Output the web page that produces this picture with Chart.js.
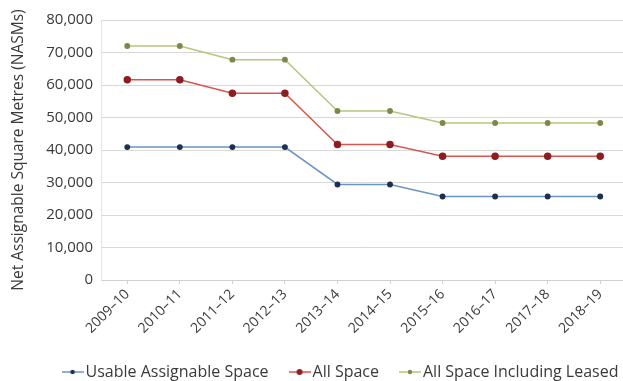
<!DOCTYPE html>
<html>
<head>
<meta charset="utf-8">
<script src="https://cdn.jsdelivr.net/npm/chart.js@4.4.0/dist/chart.umd.min.js"></script>
<style>
  html, body { margin: 0; padding: 0; background: #fff; overflow: hidden; }
  #wrap { width: 632px; height: 381px; position: relative; }
</style>
</head>
<body>
<div id="wrap"><canvas id="chart"></canvas></div>
<script>
const years = ['2009–10', '2010–11', '2011–12', '2012–13', '2013–14', '2014–15', '2015–16', '2016–17', '2017–18', '2018–19'];
const usableSpace = [40900, 40900, 40900, 40900, 29400, 29400, 25700, 25700, 25700, 25700];
const allSpace = [61600, 61600, 57500, 57500, 41700, 41700, 38100, 38100, 38100, 38100];
const allSpaceLeased = [72000, 72000, 67800, 67800, 52000, 52000, 48300, 48300, 48300, 48300];

const font = "'Open Sans', 'DejaVu Sans', sans-serif";
const txt = '#3a3a3a';

// little legend icon: short line with the marker on it
function legendIcon(line, dot, r) {
  const c = document.createElement('canvas');
  c.width = 22; c.height = 10;
  const g = c.getContext('2d');
  g.strokeStyle = line; g.lineWidth = 1.5;
  g.beginPath(); g.moveTo(0, 5); g.lineTo(22, 5); g.stroke();
  g.fillStyle = dot;
  g.beginPath(); g.arc(11, 5, r, 0, Math.PI * 2); g.fill();
  return c;
}

function series(label, data, line, dot, r) {
  return {
    label, data,
    borderColor: line, backgroundColor: dot,
    pointBackgroundColor: dot, pointBorderColor: dot,
    pointRadius: r, borderWidth: 1.5, tension: 0, fill: false,
    icon: legendIcon(line, dot, r)
  };
}

// fixed legend height, then nudge it to where the original has it
const legendNudge = {
  id: 'legendNudge',
  afterInit(c) {
    const l = c.legend;
    const fit = l.fit.bind(l);
    l.fit = function () { fit(); this.height = 37; };
  },
  afterLayout(c) {
    const l = c.legend;
    l.left += 27; l.right += 27;
    l.top -= 6; l.bottom += 12;
  }
};

new Chart(document.getElementById('chart').getContext('2d'), {
  type: 'line',
  data: {
    labels: years,
    datasets: [
      series('Usable Assignable Space', usableSpace, '#6a94c6', '#1f2f4f', 2.2),
      series('All Space', allSpace, '#d9554f', '#8e1d22', 3),
      series('All Space Including Leased', allSpaceLeased, '#b4c77a', '#7b8a4a', 2.2)
    ]
  },
  plugins: [legendNudge],
  options: {
    responsive: true,
    maintainAspectRatio: false,
    animation: false,
    layout: { padding: { top: 20, right: 0, left: 0, bottom: 0 } },
    plugins: {
      tooltip: { enabled: false },
      legend: {
        position: 'bottom',
        labels: {
          color: txt,
          font: { family: font, size: 16 },
          usePointStyle: true,
          pointStyleWidth: 10,
          padding: 26,
          generateLabels: chart => chart.data.datasets.map((ds, i) => ({
            text: ds.label,
            pointStyle: ds.icon,
            fontColor: txt,
            lineWidth: 0,
            datasetIndex: i
          }))
        }
      }
    },
    scales: {
      x: {
        offset: true,
        grid: { drawOnChartArea: false, offset: false, tickLength: 4, color: '#d0d0d0' },
        border: { color: '#d0d0d0' },
        ticks: { color: txt, font: { family: font, size: 14 }, maxRotation: 45, minRotation: 45, padding: 2 },
        afterFit: s => { s.height = 64; }
      },
      y: {
        min: 0, max: 80000,
        grid: { color: '#d8d8d8', drawTicks: false },
        border: { display: true, color: '#e4e4e4' },
        ticks: {
          stepSize: 10000, color: txt, padding: 8,
          font: { family: font, size: 15 },
          callback: v => v.toLocaleString('en-US')
        },
        title: {
          display: true, text: 'Net Assignable Square Metres (NASMs)',
          color: txt, font: { family: font, size: 15.5 }, padding: { top: 9, bottom: 0 }
        },
        afterFit: s => { s.width = 101; }
      }
    }
  }
});
</script>
</body>
</html>
